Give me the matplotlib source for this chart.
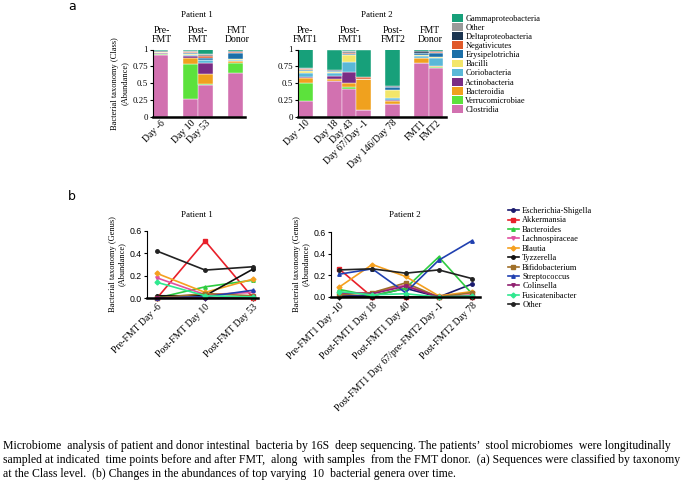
import matplotlib
matplotlib.use("Agg")
import matplotlib.pyplot as plt
from matplotlib.patches import Patch
from matplotlib.lines import Line2D
import numpy as np

plt.rcParams['font.family'] = ['Liberation Serif', 'DejaVu Serif']

# ---- panel a: class level abundance (stack order bottom -> top)
class_names = ["Clostridia", "Verrucomicrobiae", "Bacteroidia", "Actinobacteria",
               "Coriobacteria", "Bacilli", "Erysipelotrichia", "Negativicutes",
               "Deltaproteobacteria", "Other", "Gammaproteobacteria"]
class_colors = ["#d271b0", "#5ce23c", "#f0a11e", "#7a2c85", "#5ab8d8", "#f3e66a",
                "#1c6fa8", "#e0592a", "#1c3550", "#9a9a9a", "#17a07a"]

p1_samples = ["Day -6", "Day 10", "Day 53", ""]
# rows = classes (same order as class_names), cols = samples
p1_class_abund = [
    [0.92, 0.27, 0.48, 0.65],    # Clostridia
    [0.01, 0.52, 0.01, 0.15],    # Verrucomicrobiae
    [0.01, 0.09, 0.14, 0.03],    # Bacteroidia
    [0.005, 0.02, 0.17, 0.005],  # Actinobacteria
    [0.005, 0.02, 0.04, 0.01],   # Coriobacteria
    [0.01, 0.02, 0.01, 0.01],    # Bacilli
    [0.005, 0.01, 0.02, 0.10],   # Erysipelotrichia
    [0.005, 0.01, 0.04, 0.01],   # Negativicutes
    [0.005, 0.01, 0.01, 0.02],   # Deltaproteobacteria
    [0.005, 0.01, 0.01, 0.0],    # Other
    [0.02, 0.02, 0.07, 0.015],   # Gammaproteobacteria
]

p2_samples = ["Day -10", "Day 18", "Day 43", "Day 67/Day -1", "Day 146/Day 78", "FMT1", "FMT2"]
p2_class_abund = [
    [0.23, 0.54, 0.42, 0.11, 0.19, 0.80, 0.73],     # Clostridia
    [0.28, 0.0, 0.02, 0.0, 0.01, 0.0, 0.005],       # Verrucomicrobiae
    [0.07, 0.03, 0.07, 0.45, 0.04, 0.07, 0.02],     # Bacteroidia
    [0.02, 0.04, 0.15, 0.0, 0.01, 0.01, 0.005],     # Actinobacteria
    [0.05, 0.04, 0.16, 0.0, 0.03, 0.03, 0.12],      # Coriobacteria
    [0.03, 0.02, 0.10, 0.0, 0.12, 0.005, 0.005],    # Bacilli
    [0.01, 0.005, 0.02, 0.0, 0.04, 0.03, 0.07],     # Erysipelotrichia
    [0.02, 0.01, 0.01, 0.04, 0.005, 0.01, 0.01],    # Negativicutes
    [0.005, 0.005, 0.01, 0.0, 0.015, 0.02, 0.015],  # Deltaproteobacteria
    [0.005, 0.0, 0.02, 0.0, 0.0, 0.005, 0.005],     # Other
    [0.28, 0.31, 0.02, 0.40, 0.54, 0.02, 0.015],    # Gammaproteobacteria
]

# ---- panel b: genus level abundance
genus_names = ["Escherichia-Shigella", "Akkermansia", "Bacteroides", "Lachnospiraceae",
               "Blautia", "Tyzzerella", "Bifidobacterium", "Streptococcus",
               "Colinsella", "Fusicatenibacter", "Other"]
genus_colors = ["#1a1a6e", "#e8202a", "#2ecc40", "#e050a0", "#f5a020", "#111111",
                "#a0702a", "#2040b0", "#902070", "#30e890", "#222222"]
genus_markers = ["o", "s", "^", "v", "D", "o", "s", "^", "v", "D", "o"]

p1_times = ["Pre-FMT Day -6", "Post-FMT Day 10", "Post-FMT Day 53"]
p1_genus = [
    [0.0, 0.0, 0.0],      # Escherichia-Shigella
    [0.0, 0.51, 0.0],     # Akkermansia
    [0.0, 0.10, 0.16],    # Bacteroides
    [0.18, 0.03, 0.05],   # Lachnospiraceae
    [0.22, 0.05, 0.17],   # Blautia
    [0.02, 0.02, 0.26],   # Tyzzerella
    [0.0, 0.04, 0.02],    # Bifidobacterium
    [0.0, 0.01, 0.07],    # Streptococcus
    [0.0, 0.0, 0.01],     # Colinsella
    [0.14, 0.02, 0.01],   # Fusicatenibacter
    [0.42, 0.25, 0.28],   # Other
]

p2_times = ["Pre-FMT1 Day -10", "Post-FMT1 Day 18", "Post-FMT1 Day 40",
            "Post-FMT1 Day 67/pre-FMT2 Day -1", "Post-FMT2 Day 78"]
p2_genus = [
    [0.01, 0.01, 0.08, 0.0, 0.12],    # Escherichia-Shigella
    [0.26, 0.0, 0.0, 0.0, 0.0],       # Akkermansia
    [0.07, 0.01, 0.08, 0.37, 0.03],   # Bacteroides
    [0.03, 0.04, 0.11, 0.0, 0.02],    # Lachnospiraceae
    [0.09, 0.30, 0.19, 0.01, 0.05],   # Blautia
    [0.0, 0.0, 0.0, 0.0, 0.0],        # Tyzzerella
    [0.02, 0.04, 0.13, 0.0, 0.04],    # Bifidobacterium
    [0.21, 0.26, 0.04, 0.34, 0.52],   # Streptococcus
    [0.04, 0.03, 0.10, 0.0, 0.01],    # Colinsella
    [0.05, 0.02, 0.03, 0.0, 0.01],    # Fusicatenibacter
    [0.25, 0.26, 0.22, 0.25, 0.17],   # Other
]

caption = ["Microbiome  analysis of patient and donor intestinal  bacteria by 16S  deep sequencing. The patients\u2019  stool microbiomes  were longitudinally",
           "sampled at indicated  time points before and after FMT,  along  with samples  from the FMT donor.  (a) Sequences were classified by taxonomy",
           "at the Class level.  (b) Changes in the abundances of top varying  10  bacterial genera over time."]

W, H = 685, 488
fig = plt.figure(figsize=(W / 100, H / 100), dpi=100)


def px_axes(l, t, r, b):
    return fig.add_axes([l / W, 1 - b / H, (r - l) / W, (b - t) / H])


def style_axes(ax):
    ax.spines['top'].set_visible(False)
    ax.spines['right'].set_visible(False)
    ax.spines['bottom'].set_linewidth(1.8)
    ax.spines['left'].set_linewidth(0.8)
    ax.tick_params(axis='y', length=2.5, width=0.8, labelsize=6.3, pad=1)
    ax.tick_params(axis='x', length=0, labelsize=7, pad=1)


def stacked(ax, pos, data):
    bottom = np.zeros(len(pos))
    for row, col in zip(data, class_colors):
        ax.bar(pos, row, width=1.0, bottom=bottom, color=col, edgecolor='white', linewidth=0.3)
        bottom += np.array(row)


# panel a, patient 1
a1 = px_axes(153, 49.5, 245, 117)
p1_pos = [0, 2, 3, 5]
stacked(a1, p1_pos, p1_class_abund)
a1.set_xlim(-0.5, 5.6)
a1.set_ylim(0, 1)
a1.set_yticks([0, 0.25, 0.5, 0.75, 1])
a1.set_yticklabels(["0", "0.25", "0.5", "0.75", "1"])
a1.set_xticks(p1_pos)
a1.set_xticklabels(p1_samples, rotation=45, ha='right', rotation_mode='anchor')
a1.set_ylabel("Bacterial taxonomy (Class)\n(Abundance)", fontsize=6, labelpad=3)
style_axes(a1)

# panel a, patient 2
a2 = px_axes(298, 49.5, 446, 117)
p2_pos = [0, 2, 3, 4, 6, 8, 9]
stacked(a2, p2_pos, p2_class_abund)
a2.set_xlim(-0.5, 9.7)
a2.set_ylim(0, 1)
a2.set_yticks([0, 0.25, 0.5, 0.75, 1])
a2.set_yticklabels(["0", "0.25", "0.5", "0.75", "1"])
a2.set_xticks(p2_pos)
a2.set_xticklabels(p2_samples, rotation=45, ha='right', rotation_mode='anchor')
style_axes(a2)

for x, s in [(162, "Pre-\nFMT"), (198, "Post-\nFMT"), (237, "FMT\nDonor"),
             (305, "Pre-\nFMT1"), (350, "Post-\nFMT1"), (393, "Post-\nFMT2"), (430, "FMT\nDonor")]:
    fig.text(x / W, 1 - 35 / H, s, ha='center', va='center', fontsize=7, linespacing=1.05)
fig.text(197 / W, 1 - 15 / H, "Patient 1", ha='center', va='center', fontsize=6.5)
fig.text(377 / W, 1 - 15 / H, "Patient 2", ha='center', va='center', fontsize=6.5)
fig.text(68 / W, 1 - 6 / H, "a", ha='left', va='center', fontsize=9, family='DejaVu Sans')

handles = [Patch(facecolor=c, edgecolor='none', label=n)
           for n, c in zip(class_names[::-1], class_colors[::-1])]
fig.legend(handles=handles, loc='upper left', bbox_to_anchor=(452 / W, 1 - 14 / H),
           frameon=False, fontsize=6, handlelength=1.35, handleheight=1.05,
           handletextpad=0.25, labelspacing=0.05, borderpad=0, borderaxespad=0)

# panel b
def line_panel(ax, labels, data):
    x = np.arange(len(labels))
    for row, col, mk in zip(data, genus_colors, genus_markers):
        ax.plot(x, row, color=col, marker=mk, markersize=2.5, linewidth=1.2, clip_on=False)
    ax.set_ylim(0, 0.6)
    ax.set_yticks([0, 0.2, 0.4, 0.6])
    ax.set_yticklabels(["0.0", "0.2", "0.4", "0.6"], family='Liberation Sans')
    ax.set_xticks(x)
    ax.set_xticklabels(labels, rotation=45, ha='right', rotation_mode='anchor')
    style_axes(ax)
    ax.tick_params(axis='x', length=2, width=0.8)


b1 = px_axes(147, 231, 258, 298)
line_panel(b1, p1_times, p1_genus)
b1.set_xlim(-0.21, 2.1)
b1.set_ylabel("Bacterial taxonomy (Genus)\n(Abundance)", fontsize=6, labelpad=3)

b2 = px_axes(331, 232, 480, 297)
line_panel(b2, p2_times, p2_genus)
b2.set_xlim(-0.24, 4.24)
b2.set_ylabel("Bacterial taxonomy (Genus)\n(Abundance)", fontsize=6, labelpad=3)

fig.text(197 / W, 1 - 215 / H, "Patient 1", ha='center', va='center', fontsize=6.5)
fig.text(405 / W, 1 - 215 / H, "Patient 2", ha='center', va='center', fontsize=6.5)
fig.text(68 / W, 1 - 196 / H, "b", ha='left', va='center', fontsize=9, family='DejaVu Sans')

lh = [Line2D([0], [0], color=c, marker=m, markersize=2.5, linewidth=1.2, label=n)
      for n, c, m in zip(genus_names, genus_colors, genus_markers)]
fig.legend(handles=lh, loc='upper left', bbox_to_anchor=(508 / W, 1 - 207 / H),
           frameon=False, fontsize=6, handlelength=1.3, handletextpad=0.4,
           labelspacing=0.17, borderpad=0, borderaxespad=0)

for i, line in enumerate(caption):
    fig.text(3 / W, 1 - (446 + 14 * i) / H, line, ha='left', va='center', fontsize=8.5)

fig.savefig("out.png", dpi=100)
